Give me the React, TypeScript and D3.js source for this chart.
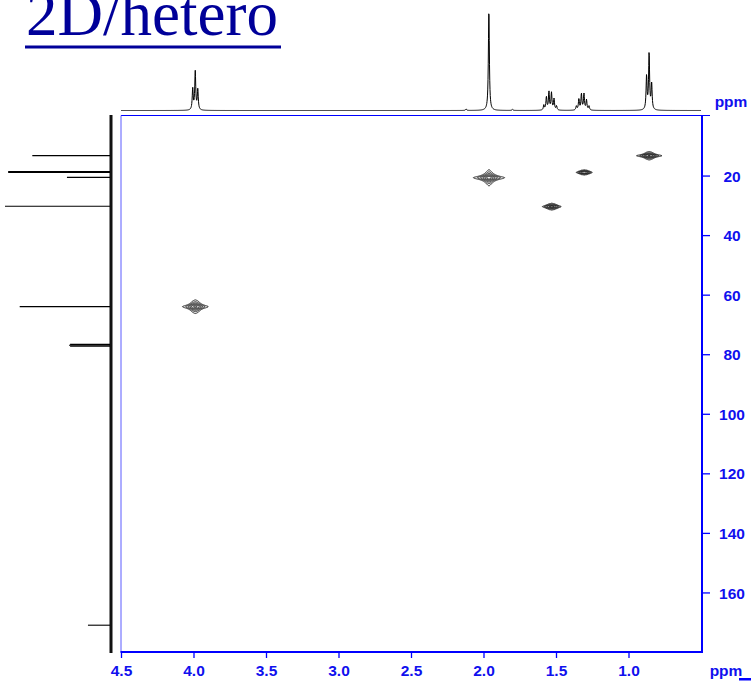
import * as d3 from "d3";
import { useEffect, useRef } from "react";

const WIDTH = 751;
const HEIGHT = 682;

// 1H projection: multiplet centres (ppm) and their line heights, left to right
const protonCentres = [3.988, 2.12, 1.963, 1.8, 1.54, 1.316, 0.858];
const protonLines = [
  [21, 38, 20],
  [1.5],
  [100],
  [1.2],
  [5, 13, 18, 17, 11, 4],
  [4, 11, 16, 16, 10, 4],
  [33, 56, 26],
];
const couplingPpm = 0.0175;
const protonHalfWidth = 0.004;

// 13C projection
const carbonPpm = [13.3, 18.8, 20.6, 30.3, 64.0, 76.7, 77.0, 77.3, 171.0];
const carbonHeight = [74, 97, 41, 100, 86, 38, 39, 38, 21];

// cross peaks (1H ppm, 13C ppm)
const crossH = [3.988, 1.963, 1.53, 1.306, 0.858];
const crossC = [64.0, 20.7, 30.4, 18.9, 13.3];
const crossLines = [[1, 2, 1], [1], [1, 4, 6, 4, 1], [1, 4, 6, 4, 1], [1, 2, 1]];
const crossAmp = [15, 30, 9, 7, 13];
const crossWidthH = [0.016, 0.02, 0.012, 0.011, 0.017];
const crossWidthC = [0.5, 0.5, 0.33, 0.3, 0.33];
const contourLevels = [1, 1.8, 3.2, 5.6, 10, 18];

const hTicks = [4.5, 4.0, 3.5, 3.0, 2.5, 2.0, 1.5, 1.0];
const hMinorTicks = [4.4, 4.3, 4.2, 4.1, 3.9, 3.8, 3.7, 3.6, 3.4, 3.3, 3.2, 3.1, 2.9, 2.8, 2.7, 2.6, 2.4, 2.3, 2.2, 2.1, 1.9, 1.8, 1.7, 1.6, 1.4, 1.3, 1.2, 1.1, 0.9, 0.8, 0.7, 0.6];
const cTicks = [20, 40, 60, 80, 100, 120, 140, 160];
const cMinorTicks = [10, 30, 50, 70, 90, 110, 130, 150, 170];

const BLUE = "#0000ff";
const LABEL_BLUE = "#1010ee";
const LABEL_FONT = "'Liberation Sans', Arial, sans-serif";

const lorentz = (d: number, w: number) => 1 / (1 + (d / w) * (d / w));

const App = () => {
  const svgRef = useRef<SVGSVGElement | null>(null);

  useEffect(() => {
    const svg = d3.select(svgRef.current);
    svg.selectAll("*").remove();

    const x = d3.scaleLinear().domain([4.5, 0.5]).range([121, 701]);
    const y = d3.scaleLinear().domain([0, 180]).range([116, 652]);
    const hY = d3.scaleLinear().domain([0, 100]).range([110.5, 10]);
    const cX = d3.scaleLinear().domain([0, 100]).range([110, 5]);

    // title
    svg.append("text")
      .attr("x", 26)
      .attr("y", 35)
      .attr("font-family", "'Liberation Serif', 'Times New Roman', serif")
      .attr("font-size", 63)
      .attr("fill", "#000099")
      .text("2D/hetero");
    svg.append("rect")
      .attr("x", 25).attr("y", 45.5).attr("width", 256).attr("height", 3)
      .attr("fill", "#000099");

    // top 1H spectrum
    const hLines: [number, number][] = [];
    protonCentres.forEach((c, i) => {
      const n = protonLines[i].length;
      protonLines[i].forEach((h, k) => {
        hLines.push([c + couplingPpm * ((n - 1) / 2 - k), h]);
      });
    });
    const nSamples = 2320;
    const spectrum = d3.range(nSamples + 1).map(i => {
      const p = 4.5 - (i * 4) / nSamples;
      const v = d3.sum(hLines, l => l[1] * lorentz(p - l[0], protonHalfWidth));
      return [p, v] as [number, number];
    });
    svg.append("path")
      .attr("d", d3.line<[number, number]>().x(d => x(d[0])).y(d => hY(d[1]))(spectrum))
      .attr("fill", "none")
      .attr("stroke", "#000")
      .attr("stroke-width", 1);

    // left 13C spectrum
    svg.append("line")
      .attr("x1", 111).attr("x2", 111)
      .attr("y1", 115).attr("y2", 653)
      .attr("stroke", "#111")
      .attr("stroke-width", 3);
    carbonPpm.forEach((p, i) => {
      svg.append("line")
        .attr("x1", cX(0)).attr("x2", cX(carbonHeight[i]))
        .attr("y1", y(p)).attr("y2", y(p))
        .attr("stroke", "#000")
        .attr("stroke-width", p > 18 && p < 19.5 ? 2 : 1.1);
    });

    // frame
    const frame = svg.append("g").attr("stroke", BLUE).attr("fill", "none");
    frame.append("line").attr("x1", 121).attr("x2", 710).attr("y1", 115.5).attr("y2", 115.5).attr("stroke-width", 1);
    frame.append("line").attr("x1", 121).attr("x2", 121).attr("y1", 115.5).attr("y2", 652).attr("stroke-width", 1).attr("stroke", "#5a5aff");
    frame.append("line").attr("x1", 702).attr("x2", 702).attr("y1", 115.5).attr("y2", 653).attr("stroke-width", 2);
    frame.append("line").attr("x1", 120.5).attr("x2", 703).attr("y1", 652).attr("y2", 652).attr("stroke-width", 2);

    // bottom axis
    const bottom = svg.append("g").attr("transform", "translate(0,652)");
    bottom.call(d3.axisBottom(x).tickValues(hMinorTicks).tickSize(3).tickSizeOuter(0).tickFormat(() => ""));
    bottom.call(
      d3.axisBottom(x).tickValues(hTicks).tickSize(6).tickSizeOuter(0)
        .tickFormat(d => d3.format(".1f")(d as number))
    );
    bottom.select(".domain").remove();
    bottom.selectAll("line").attr("stroke", BLUE).attr("stroke-width", 1.3);
    bottom.selectAll("text")
      .attr("y", 24)
      .attr("dy", 0)
      .attr("fill", LABEL_BLUE)
      .attr("font-family", LABEL_FONT)
      .attr("font-weight", "bold")
      .attr("font-size", 15.5);

    // right axis
    const right = svg.append("g").attr("transform", "translate(702,0)");
    right.call(d3.axisLeft(y).tickValues(cMinorTicks).tickSize(3).tickSizeOuter(0).tickFormat(() => ""));
    right.call(
      d3.axisRight(y).tickValues(cTicks).tickSize(8).tickSizeOuter(0)
        .tickFormat(d => String(d))
    );
    right.select(".domain").remove();
    right.selectAll("line").attr("stroke", BLUE).attr("stroke-width", 1.3);
    right.selectAll("text")
      .attr("x", 30)
      .attr("dy", "0.36em")
      .attr("text-anchor", "middle")
      .attr("fill", LABEL_BLUE)
      .attr("font-family", LABEL_FONT)
      .attr("font-weight", "bold")
      .attr("font-size", 15.5);

    // ppm units
    const unit = (ux: number, uy: number) =>
      svg.append("text")
        .attr("x", ux).attr("y", uy)
        .attr("text-anchor", "middle")
        .attr("fill", LABEL_BLUE)
        .attr("font-family", LABEL_FONT)
        .attr("font-weight", "bold")
        .attr("font-size", 15.5)
        .text("ppm");
    unit(731, 107);
    unit(726, 676);
    svg.append("rect").attr("x", 739).attr("y", 678).attr("width", 12).attr("height", 2.5).attr("fill", BLUE);

    // cross peak contours
    const pxPerH = Math.abs(x(0) - x(1));
    const pxPerC = Math.abs(y(1) - y(0));
    const gx = 30, gy = 14, res = 0.25;
    const nx = Math.round((2 * gx) / res), ny = Math.round((2 * gy) / res);
    const contourG = svg.append("g").attr("fill", "none").attr("stroke", "#000").attr("stroke-width", 0.85);
    crossH.forEach((hp, i) => {
      const cx = x(hp), cy = y(crossC[i]);
      const weights = crossLines[i];
      const wMax = d3.max(weights) as number;
      const n = weights.length;
      const offs = weights.map((_, k) => x(hp + couplingPpm * ((n - 1) / 2 - k)) - cx);
      const wx = crossWidthH[i] * pxPerH;
      const wy = crossWidthC[i] * pxPerC;
      const values = new Array(nx * ny);
      for (let j = 0; j < ny; j++) {
        const py = -gy + j * res;
        const ly = lorentz(py, wy);
        for (let a = 0; a < nx; a++) {
          const px = -gx + a * res;
          let v = 0;
          for (let k = 0; k < n; k++) v += (weights[k] / wMax) * lorentz(px - offs[k], wx);
          values[a + j * nx] = crossAmp[i] * v * ly;
        }
      }
      const contours = d3.contours().size([nx, ny]).thresholds(contourLevels)(values);
      const path = d3.geoPath(d3.geoIdentity().scale(res).translate([cx - gx, cy - gy]) as any);
      contourG.selectAll(null)
        .data(contours)
        .enter()
        .append("path")
        .attr("d", d => path(d as any));
    });
  }, []);

  return (
    <svg
      ref={svgRef}
      width={WIDTH}
      height={HEIGHT}
      style={{ position: "absolute", left: 0, top: 0, display: "block", background: "#fff" }}
    />
  );
};

export default App;
